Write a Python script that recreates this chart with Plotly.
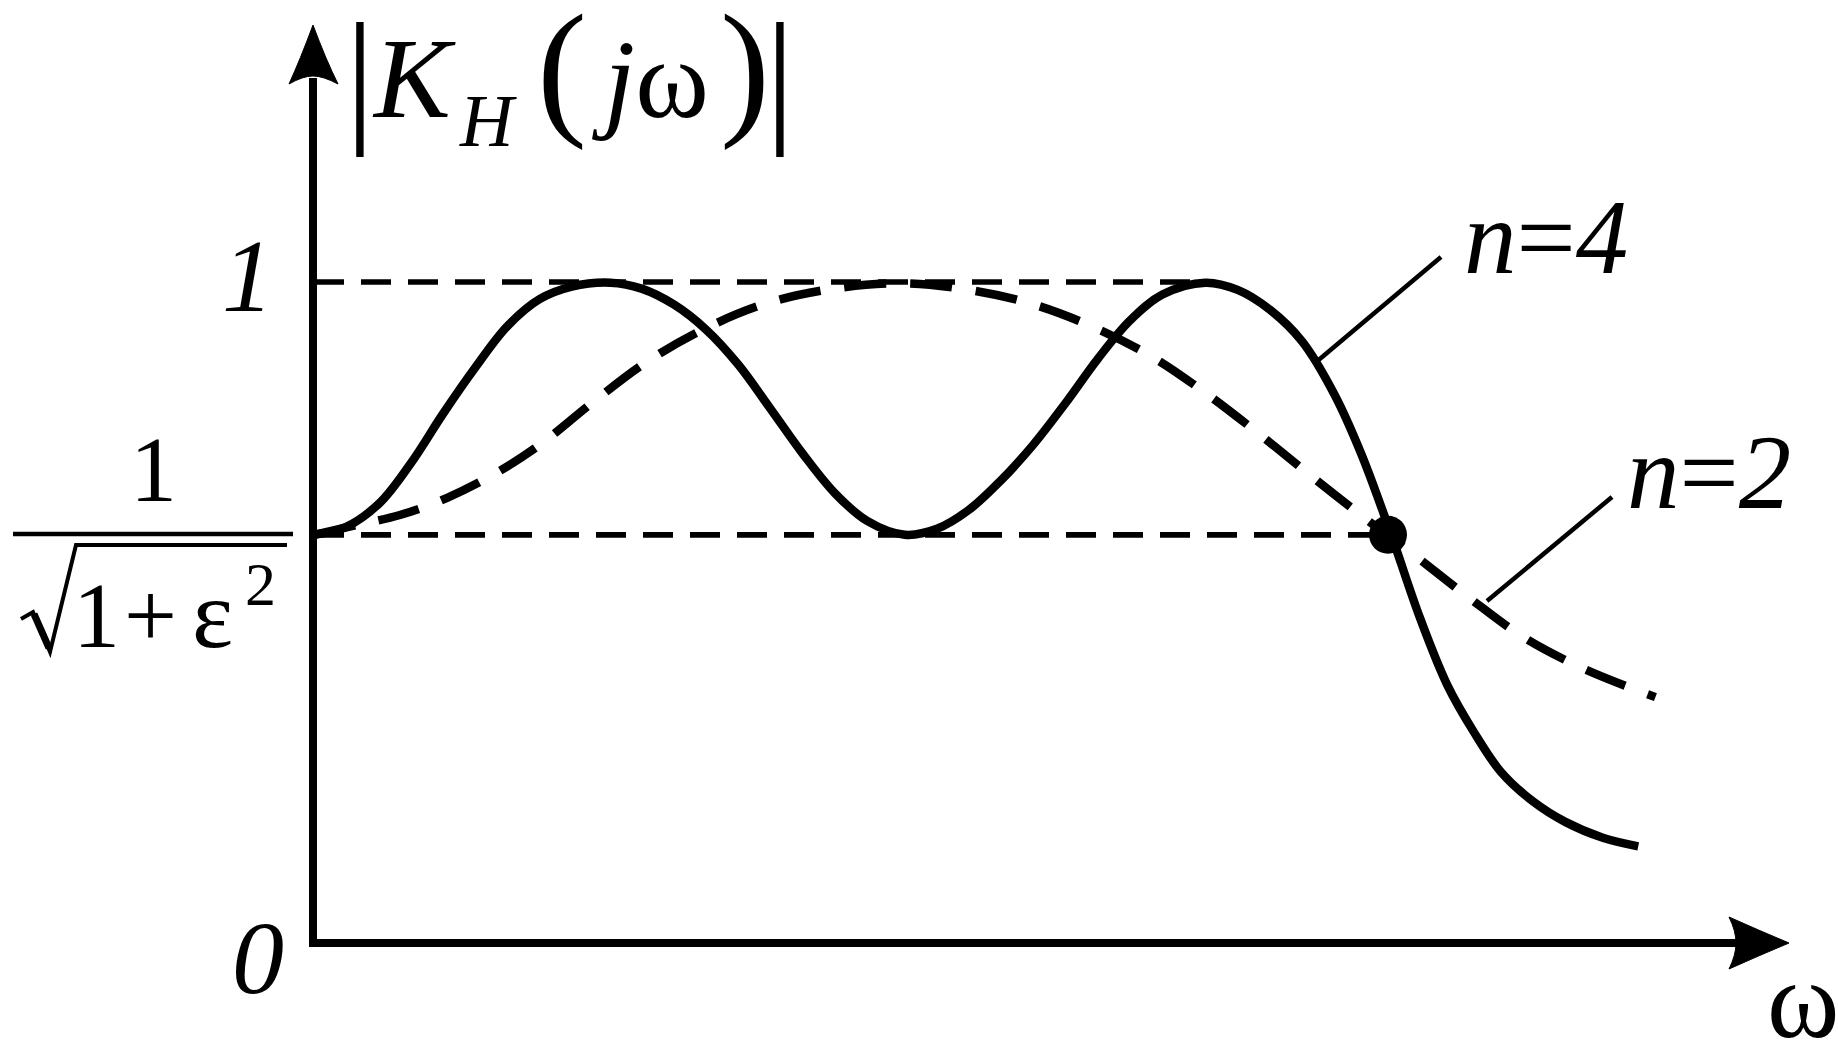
import plotly.graph_objects as go

# ---------------- data ----------------
# normalised frequency (cut-off = 1) and magnitude (1 = passband maximum)
omega_n4 = [0.000, 0.030, 0.061, 0.090, 0.120, 0.150, 0.180, 0.210, 0.240, 0.276,
            0.305, 0.335, 0.365, 0.395, 0.425, 0.455, 0.485, 0.515, 0.550,
            0.580, 0.610, 0.640, 0.670, 0.700, 0.730, 0.760, 0.790, 0.830,
            0.860, 0.890, 0.920, 0.950, 0.975, 1.003, 1.030, 1.055, 1.080,
            1.105, 1.135, 1.165, 1.200, 1.233]
k_n4 = [0.617, 0.629, 0.665, 0.725, 0.800, 0.870, 0.933, 0.974, 0.993, 0.999,
        0.990, 0.966, 0.928, 0.875, 0.808, 0.740, 0.680, 0.638, 0.617,
        0.626, 0.655, 0.700, 0.754, 0.817, 0.884, 0.942, 0.981, 0.999,
        0.988, 0.958, 0.910, 0.830, 0.740, 0.617, 0.490, 0.390, 0.318,
        0.258, 0.213, 0.182, 0.158, 0.145]

omega_n2 = [0.000, 0.040, 0.080, 0.124, 0.170, 0.210, 0.259, 0.308, 0.361, 0.420,
            0.480, 0.546, 0.606, 0.666, 0.724, 0.779, 0.830, 0.879, 0.927, 0.977,
            1.027, 1.076, 1.126, 1.181, 1.249]
k_n2 = [0.617, 0.632, 0.647, 0.673, 0.711, 0.753, 0.817, 0.877, 0.927, 0.967,
        0.989, 0.998, 0.989, 0.968, 0.933, 0.888, 0.832, 0.771, 0.708, 0.644,
        0.583, 0.521, 0.462, 0.415, 0.371]

k_max = 1.0          # level "1"
k_min = 0.617        # level 1/sqrt(1+eps^2)
omega_c = 1.0        # cut-off point (dot)
omega_max_line = 0.830   # upper dashed guide ends at the last ripple peak

y_tick_labels = ["<i>1</i>", "<i>0</i>"]
curve_labels = ["<i>n</i>=<i>4</i>", "<i>n</i>=<i>2</i>"]

# ---------------- geometry of the canvas ----------------
W, H = 1838, 1040
X0_PX, X1_PX = 314, 1388    # pixel columns of omega = 0 and omega = 1
Y0_PX, Y1_PX = 942, 282     # pixel rows of K = 0 and K = 1


def fx(px):
    return (px - X0_PX) / (X1_PX - X0_PX)


def fy(py):
    return (Y0_PX - py) / (Y0_PX - Y1_PX)


FONT = "Liberation Serif"
BLACK = "#000000"

fig = go.Figure()

# passband guide lines
fig.add_trace(go.Scatter(x=[0, omega_max_line], y=[k_max, k_max], mode="lines",
                         line=dict(color=BLACK, width=5.7, dash="30px,17px"),
                         hoverinfo="skip", showlegend=False))
fig.add_trace(go.Scatter(x=[0, omega_c], y=[k_min, k_min], mode="lines",
                         line=dict(color=BLACK, width=5.7, dash="30px,17px"),
                         hoverinfo="skip", showlegend=False))

# n = 2 (dashed)
fig.add_trace(go.Scatter(x=omega_n2, y=k_n2, mode="lines",
                         line=dict(color=BLACK, width=8.5, dash="42px,24px", shape="spline", smoothing=1.0),
                         name="n=2", showlegend=False))
# n = 4 (solid)
fig.add_trace(go.Scatter(x=omega_n4, y=k_n4, mode="lines",
                         line=dict(color=BLACK, width=8.5, shape="spline", smoothing=1.0),
                         name="n=4", showlegend=False))
# cut-off dot
fig.add_trace(go.Scatter(x=[omega_c], y=[k_min], mode="markers",
                         marker=dict(color=BLACK, size=38),
                         showlegend=False))


def P(px, py):
    return f"{fx(px):.5f},{fy(py):.5f}"


shapes = []
# axes
shapes.append(dict(type="line", xref="x", yref="y", x0=fx(313), y0=fy(947), x1=fx(313), y1=fy(78),
                   line=dict(color=BLACK, width=8)))
shapes.append(dict(type="line", xref="x", yref="y", x0=fx(309), y0=fy(943), x1=fx(1738), y1=fy(943),
                   line=dict(color=BLACK, width=8)))
# arrow heads
shapes.append(dict(type="path", xref="x", yref="y",
                   path=f"M{P(313,25)} Q{P(300,60)} {P(289,84)} Q{P(303,76)} {P(313,76)} "
                        f"Q{P(323,76)} {P(338,84)} Q{P(326,60)} {P(313,25)} Z",
                   fillcolor=BLACK, line=dict(color=BLACK, width=1)))
shapes.append(dict(type="path", xref="x", yref="y",
                   path=f"M{P(1789,943)} Q{P(1758,930)} {P(1729,917)} Q{P(1736,931)} {P(1736,943)} "
                        f"Q{P(1736,955)} {P(1729,969)} Q{P(1758,956)} {P(1789,943)} Z",
                   fillcolor=BLACK, line=dict(color=BLACK, width=1)))
# leader lines
shapes.append(dict(type="line", xref="x", yref="y", x0=fx(1315), y0=fy(363), x1=fx(1441), y1=fy(257),
                   line=dict(color=BLACK, width=4.5)))
shapes.append(dict(type="line", xref="x", yref="y", x0=fx(1487), y0=fy(601), x1=fx(1612), y1=fy(497),
                   line=dict(color=BLACK, width=4.5)))
# fraction bar and radical of 1/sqrt(1+eps^2)
shapes.append(dict(type="line", xref="x", yref="y", x0=fx(13), y0=fy(534), x1=fx(293), y1=fy(534),
                   line=dict(color=BLACK, width=4.5)))
shapes.append(dict(type="path", xref="x", yref="y",
                   path=f"M{P(21,619)} L{P(33,612)} L{P(50,652)} L{P(76,545)} L{P(287,545)}",
                   line=dict(color=BLACK, width=4)))
shapes.append(dict(type="line", xref="x", yref="y", x0=fx(34), y0=fy(614), x1=fx(49), y1=fy(648),
                   line=dict(color=BLACK, width=7)))


def txt(text, px, py, size, xanchor="center"):
    return dict(x=fx(px), y=fy(py), xref="x", yref="y", text=text, showarrow=False,
                font=dict(family=FONT, size=size, color=BLACK),
                xanchor=xanchor, yanchor="middle", borderpad=0)


ann = [
    # title |K_H(jω)|
    txt("|", 360, 74, 149),
    txt("<i>K</i>", 414, 78, 115),
    txt("<i>H</i>", 488, 121, 74),
    txt("(", 562, 67, 150),
    txt("<i>j</i>ω", 650, 79, 112),
    txt(")", 745, 67, 150),
    txt("|", 780, 74, 149),
    # y labels
    txt(y_tick_labels[0], 248, 276, 103),
    txt(y_tick_labels[1], 258, 957, 104),
    txt("1", 153, 469, 94),
    txt("1", 96, 615, 94),
    txt("+", 150, 615, 94),
    txt("ε", 212, 614, 98),
    txt("2", 260, 584, 62),
    # x label
    txt("ω", 1766, 1000, 110, xanchor="left"),
    # curve labels
    txt(curve_labels[0], 1546, 237, 105),
    txt(curve_labels[1], 1709, 472, 105),
]

fig.update_layout(
    width=W, height=H,
    margin=dict(l=0, r=0, t=0, b=0, pad=0),
    paper_bgcolor="white", plot_bgcolor="white",
    xaxis=dict(range=[fx(0), fx(W)], visible=False, fixedrange=True),
    yaxis=dict(range=[fy(H), fy(0)], visible=False, fixedrange=True),
    shapes=shapes, annotations=ann, showlegend=False,
)

fig.write_html("out.html",
               config={"displayModeBar": False, "staticPlot": True},
               post_script="document.body.style.margin='0px';document.body.style.overflow='hidden';")
